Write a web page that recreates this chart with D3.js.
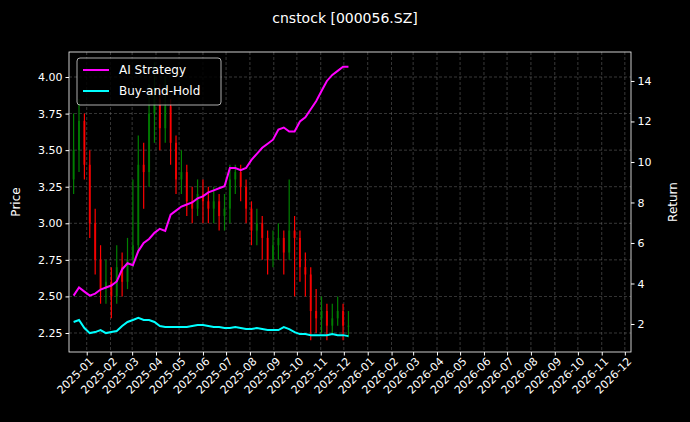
<!DOCTYPE html><html><head><meta charset="utf-8"><script src="https://cdn.jsdelivr.net/npm/d3@7"></script>
<style>body{margin:0;background:#000}text{font-family:"DejaVu Sans",sans-serif}</style></head><body><svg id="c" width="690" height="422"></svg>
<script>
const opens=[3.3,3.5,3.7,3.4,3.0,2.75,2.55,2.6,2.5,2.7,2.6,2.75,2.85,3.4,3.35,3.75,3.85,3.65,3.8,3.55,3.3,3.35,3.15,3.1,3.2,3.15,3.1,3.15,3.05,3.1,3.3,3.35,3.25,3.1,2.95,3.0,2.9,2.75,2.85,2.9,2.8,2.95,2.9,2.7,2.65,2.4,2.35,2.4,2.3,2.35,2.4,2.3];
const closes=[3.5,3.7,3.4,3.0,2.75,2.55,2.6,2.5,2.7,2.6,2.75,2.85,3.4,3.35,3.75,3.85,3.65,3.8,3.55,3.3,3.35,3.15,3.1,3.2,3.15,3.1,3.15,3.05,3.1,3.3,3.35,3.25,3.1,2.95,3.0,2.9,2.75,2.85,2.9,2.8,2.95,2.9,2.7,2.65,2.4,2.35,2.4,2.3,2.35,2.4,2.3,2.3];
const highs=[3.75,3.85,3.75,3.5,3.1,2.85,2.75,2.7,2.85,2.8,2.9,3.3,3.6,3.55,3.95,4.1,3.95,4.0,3.85,3.6,3.5,3.4,3.25,3.3,3.3,3.25,3.25,3.2,3.2,3.4,3.4,3.4,3.3,3.15,3.1,3.05,2.95,2.95,3.0,2.95,3.3,3.05,2.95,2.8,2.7,2.55,2.5,2.45,2.45,2.5,2.45,2.4];
const lows=[3.2,3.35,3.3,2.9,2.65,2.45,2.45,2.35,2.45,2.5,2.55,2.7,2.8,3.1,3.25,3.55,3.5,3.55,3.4,3.2,3.2,3.05,3.0,3.05,3.0,3.0,3.0,2.95,2.95,3.0,3.2,3.15,3.0,2.85,2.85,2.75,2.65,2.7,2.75,2.65,2.75,2.5,2.6,2.5,2.2,2.25,2.25,2.2,2.25,2.3,2.2,2.22];
const aiStrategy=[3.4,3.8,3.6,3.4,3.5,3.7,3.8,3.9,4.1,4.7,5.0,4.9,5.6,6.0,6.2,6.5,6.7,6.6,7.4,7.6,7.8,7.9,8.0,8.2,8.3,8.5,8.6,8.7,8.8,9.7,9.7,9.6,9.7,10.1,10.4,10.7,10.9,11.1,11.6,11.7,11.5,11.5,12.0,12.2,12.6,13.0,13.5,14.0,14.3,14.5,14.7,14.7];
const buyHold=[2.1,2.2,1.8,1.55,1.6,1.7,1.55,1.6,1.65,1.9,2.1,2.2,2.3,2.2,2.2,2.1,1.9,1.85,1.85,1.85,1.85,1.85,1.9,1.95,1.95,1.9,1.85,1.85,1.8,1.8,1.85,1.8,1.75,1.75,1.8,1.75,1.7,1.7,1.7,1.85,1.75,1.6,1.5,1.5,1.45,1.45,1.45,1.45,1.5,1.45,1.45,1.4];
const priceTicks=[2.25,2.5,2.75,3.0,3.25,3.5,3.75,4.0];
const returnTicks=[2,4,6,8,10,12,14];

const dates=d3.timeWeek.range(new Date("2024-12-09T00:00"), new Date("2025-12-08T00:00"), 1).slice(0,closes.length);
const svg=d3.select("#c");
const L=69,R=631,T=52,B=352;
const x=d3.scaleTime().domain([new Date(2024,11,9),new Date(2026,11,9)]).range([L,R]);
const yP=d3.scaleLinear().domain([2.12,4.171]).range([B,T]);
const yR=d3.scaleLinear().domain([0.617,15.43]).range([B,T]);
const monthTicks=d3.timeMonth.range(new Date(2025,0,1),new Date(2026,11,2));
const g=svg.append("g");
g.selectAll(".gx").data(monthTicks).join("line").attr("x1",d=>x(d)).attr("x2",d=>x(d)).attr("y1",T).attr("y2",B).attr("stroke","#777").attr("stroke-width",0.6).attr("stroke-dasharray","3,2").attr("opacity",0.8);
g.selectAll(".gy").data(priceTicks).join("line").attr("x1",L).attr("x2",R).attr("y1",d=>yP(d)).attr("y2",d=>yP(d)).attr("stroke","#777").attr("stroke-width",0.6).attr("stroke-dasharray","3,2").attr("opacity",0.8);
const cg=svg.append("g");
dates.forEach((d,i)=>{
  const col=closes[i]>=opens[i]?"#008000":"#ff0000";
  const cx=x(d);
  cg.append("line").attr("x1",cx).attr("x2",cx).attr("y1",yP(highs[i])).attr("y2",yP(lows[i])).attr("stroke",col).attr("stroke-width",1.2);
  const y0=yP(Math.max(opens[i],closes[i])),y1=yP(Math.min(opens[i],closes[i]));
  cg.append("rect").attr("x",cx-1).attr("width",2).attr("y",y0).attr("height",Math.max(1,y1-y0)).attr("fill",col).attr("opacity",0.8);
});
const line=arr=>d3.line().x((d,i)=>x(dates[i])).y(d=>yR(d))(arr);
svg.append("path").attr("d",line(aiStrategy)).attr("fill","none").attr("stroke","#ff00ff").attr("stroke-width",2);
svg.append("path").attr("d",line(buyHold)).attr("fill","none").attr("stroke","#00ffff").attr("stroke-width",2);
svg.append("rect").attr("x",L).attr("y",T).attr("width",R-L).attr("height",B-T).attr("fill","none").attr("stroke","#fff").attr("stroke-width",0.8);
const ax=svg.append("g").attr("transform",`translate(0,${B})`).call(d3.axisBottom(x).tickValues(monthTicks).tickFormat(d3.timeFormat("%Y-%m")).tickSizeOuter(0).tickSize(3.5));
ax.selectAll("text").attr("transform","rotate(-45)").attr("text-anchor","end").attr("dx","-0.2em").attr("dy","0.5em");
const al=svg.append("g").attr("transform",`translate(${L},0)`).call(d3.axisLeft(yP).tickValues(priceTicks).tickFormat(d3.format(".2f")).tickSizeOuter(0).tickSize(3.5));
const ar=svg.append("g").attr("transform",`translate(${R},0)`).call(d3.axisRight(yR).tickValues(returnTicks).tickSizeOuter(0).tickSize(3.5));
[ax,al,ar].forEach(a=>{a.select(".domain").remove();a.selectAll("line").attr("stroke","#fff");a.selectAll("text").attr("fill","#fff").style("font-size","11px");});
svg.append("text").attr("x",345).attr("y",23).attr("text-anchor","middle").attr("fill","#fff").style("font-size","14px").text("cnstock [000056.SZ]");
svg.append("text").attr("transform","translate(20,202) rotate(-90)").attr("text-anchor","middle").attr("fill","#fff").style("font-size","12px").text("Price");
svg.append("text").attr("transform","translate(677,202) rotate(-90)").attr("text-anchor","middle").attr("fill","#fff").style("font-size","12px").text("Return");
const lg=svg.append("g").attr("transform","translate(77,58)");
lg.append("rect").attr("width",144).attr("height",47).attr("rx",3).attr("fill","#000").attr("stroke","#ccc").attr("opacity",0.85);
[["AI Strategy","#ff00ff"],["Buy-and-Hold","#00ffff"]].forEach(([t,c],i)=>{
  lg.append("line").attr("x1",6).attr("x2",32).attr("y1",12+i*21).attr("y2",12+i*21).attr("stroke",c).attr("stroke-width",2);
  lg.append("text").attr("x",42).attr("y",16+i*21).attr("fill","#fff").style("font-size","12px").text(t);
});
</script></body></html>
